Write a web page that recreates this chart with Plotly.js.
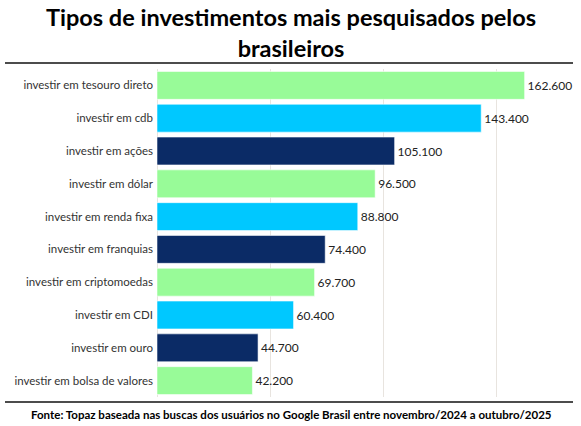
<!DOCTYPE html>
<html>
<head>
<meta charset="utf-8">
<script src="https://cdn.plot.ly/plotly-3.0.1.min.js"></script>
<style>html,body{margin:0;padding:0;background:#fff;}#chart{width:581px;height:426px;}</style>
</head>
<body>
<div id="chart"></div>
<script>
const categories = [
  "investir em tesouro direto",
  "investir em cdb",
  "investir em ações",
  "investir em dólar",
  "investir em renda fixa",
  "investir em franquias",
  "investir em criptomoedas",
  "investir em CDI",
  "investir em ouro",
  "investir em bolsa de valores"
];
const searches = [162600, 143400, 105100, 96500, 88800, 74400, 69700, 60400, 44700, 42200];
const barColors = ["#98fb98", "#00c8ff", "#0b2b66", "#98fb98", "#00c8ff", "#0b2b66", "#98fb98", "#00c8ff", "#0b2b66", "#98fb98"];
const titleText = "Tipos de investimentos mais pesquisados pelos<br>brasileiros";
const sourceText = "Fonte: Topaz baseada nas buscas dos usuários no Google Brasil entre novembro/2024 a outubro/2025";

const trace = {
  type: "bar",
  orientation: "h",
  y: categories,
  x: searches,
  marker: { color: barColors, line: { color: "rgba(255,255,255,0.55)", width: 1 } },
  texttemplate: "%{x:,.0f}",
  textposition: "outside",
  cliponaxis: false,
  textfont: { family: "Lato", size: 12, color: "#222" },
  hoverinfo: "none"
};

const L = 157, R = 8, T = 69, B = 29;
const plotW = 581 - L - R;
const plotH = 426 - T - B;
const px2x = function (px) { return (px - L) / plotW; };
const px2y = function (py) { return (426 - B - py) / plotH; };

const layout = {
  width: 581,
  height: 426,
  margin: { l: L, r: R, t: T, b: B },
  paper_bgcolor: "#fff",
  plot_bgcolor: "#fff",
  separators: ",.",
  bargap: 0.15,
  showlegend: false,
  font: { family: "Lato", color: "#333" },
  xaxis: {
    range: [0, 184000],
    dtick: 50000,
    tick0: 0,
    showticklabels: false,
    showgrid: true,
    gridcolor: "#e8e4df",
    gridwidth: 1,
    zeroline: true,
    zerolinecolor: "#e8e4df",
    zerolinewidth: 1,
    showline: false,
    fixedrange: true
  },
  yaxis: {
    autorange: "reversed",
    showgrid: false,
    zeroline: false,
    showline: false,
    ticks: "",
    ticklabelstandoff: 3,
    tickfont: { family: "Lato", size: 11.5, color: "#333" },
    fixedrange: true
  },
  shapes: [
    { type: "line", xref: "paper", yref: "paper",
      x0: px2x(5), x1: px2x(573), y0: px2y(63), y1: px2y(63),
      line: { color: "#111", width: 1.5 } },
    { type: "line", xref: "paper", yref: "paper",
      x0: px2x(5), x1: px2x(573), y0: px2y(402), y1: px2y(402),
      line: { color: "#111", width: 1.5 } }
  ],
  annotations: [
    { text: "<b>" + titleText + "</b>", xref: "paper", yref: "paper",
      x: px2x(290.5), xanchor: "center", y: px2y(32), yanchor: "middle",
      showarrow: false, align: "center",
      font: { family: "Lato", size: 23.5, color: "#000" } },
    { text: "<b>" + sourceText + "</b>", xref: "paper", yref: "paper",
      x: px2x(291), xanchor: "center", y: px2y(414), yanchor: "middle",
      showarrow: false, font: { family: "Lato", size: 11.5, color: "#000" } }
  ]
};

Plotly.newPlot("chart", [trace], layout, { displayModeBar: false, staticPlot: true });
</script>
</body>
</html>
